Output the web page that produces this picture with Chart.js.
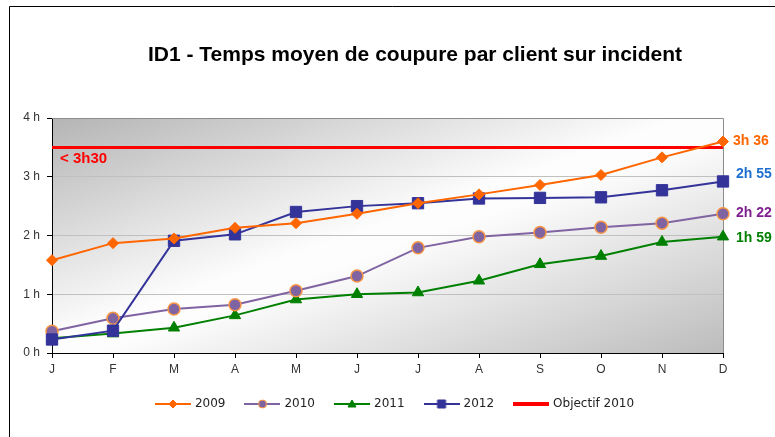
<!DOCTYPE html>
<html>
<head>
<meta charset="utf-8">
<script src="https://cdn.jsdelivr.net/npm/chart.js@4"></script>
<style>
  html, body { margin: 0; padding: 0; background: #fff; }
  canvas { display: block; }
</style>
</head>
<body>
<canvas id="graphe" width="775" height="437"></canvas>
<script>
// ===== DONNEES =====
const mois = ['J', 'F', 'M', 'A', 'M', 'J', 'J', 'A', 'S', 'O', 'N', 'D'];
const serie2009 = [1.58, 1.87, 1.95, 2.13, 2.21, 2.37, 2.55, 2.70, 2.86, 3.03, 3.33, 3.60];
const serie2010 = [0.37, 0.59, 0.75, 0.82, 1.06, 1.31, 1.79, 1.98, 2.05, 2.14, 2.21, 2.37];
const serie2011 = [0.25, 0.33, 0.43, 0.64, 0.91, 1.00, 1.03, 1.23, 1.51, 1.65, 1.89, 1.98];
const serie2012 = [0.23, 0.38, 1.91, 2.02, 2.40, 2.50, 2.55, 2.63, 2.64, 2.65, 2.77, 2.92];
const objectif2010 = mois.map(() => 3.5);
const etiquettesFin = ['3h 36', '2h 22', '1h 59', '2h 55']; // 2009, 2010, 2011, 2012
const titre = 'ID1 - Temps moyen de coupure par client sur incident';
const texteObjectif = '< 3h30';

// icones de légende : trait + marqueur
function icone(couleur, forme, fond, bord, epaisseur) {
  const c = document.createElement('canvas');
  c.width = 36; c.height = 12;
  const g = c.getContext('2d');
  g.strokeStyle = couleur;
  g.lineWidth = epaisseur;
  g.beginPath(); g.moveTo(0, 6); g.lineTo(36, 6); g.stroke();
  g.fillStyle = fond;
  g.strokeStyle = bord;
  g.lineWidth = 1;
  g.beginPath();
  if (forme === 'losange') { g.moveTo(18, 2); g.lineTo(22, 6); g.lineTo(18, 10); g.lineTo(14, 6); g.closePath(); }
  if (forme === 'rond') { g.arc(18, 6, 4, 0, Math.PI * 2); }
  if (forme === 'triangle') { g.moveTo(18, 2); g.lineTo(22, 9); g.lineTo(14, 9); g.closePath(); }
  if (forme === 'carre') { g.rect(14, 2, 8, 8); }
  if (forme) { g.fill(); g.stroke(); }
  return c;
}
const icones = [
  icone('#FF6600', 'losange', '#FF6600', '#FF6600', 2),
  icone('#8064A2', 'rond', '#8064A2', '#F79646', 2),
  icone('#008000', 'triangle', '#008000', '#008000', 2),
  icone('#333399', 'carre', '#333399', '#333399', 2),
  icone('#FF0000', null, null, null, 4)
];

// ===== DECOR (fond, titre, cadre, étiquettes) =====
const decor = {
  id: 'decor',
  afterLayout(chart) {
    // légende centrée sur toute la largeur, pas seulement sur la zone utile
    chart.legend.left += 34;
    chart.legend.right += 34;
  },
  beforeDraw(chart) {
    const { ctx, chartArea: a } = chart;
    ctx.save();
    ctx.fillStyle = '#fff';
    ctx.fillRect(0, 0, chart.width, chart.height);
    ctx.translate(a.left, a.top);
    ctx.scale(a.right - a.left, a.bottom - a.top);
    const grad = ctx.createLinearGradient(0, 0, 1, 1);
    grad.addColorStop(0, '#b4b4b4');
    grad.addColorStop(0.47, '#fdfdfd');
    grad.addColorStop(0.53, '#fdfdfd');
    grad.addColorStop(1, '#bcbcbc');
    ctx.fillStyle = grad;
    ctx.fillRect(0, 0, 1, 1);
    ctx.restore();
  },
  beforeDatasetsDraw(chart) {
    const { ctx, chartArea: a } = chart;
    ctx.save();
    ctx.strokeStyle = '#8c8c8c';
    ctx.lineWidth = 1;
    ctx.beginPath();
    ctx.moveTo(a.left, a.top + 0.5);
    ctx.lineTo(a.right + 0.5, a.top + 0.5);
    ctx.lineTo(a.right + 0.5, a.bottom);
    ctx.stroke();
    ctx.restore();
  },
  afterDatasetsDraw(chart) {
    const { ctx, chartArea: a } = chart;
    ctx.save();
    ctx.font = 'bold 14px Arial, "Liberation Sans", sans-serif';
    ctx.textBaseline = 'middle';
    ctx.textAlign = 'left';
    chart.data.datasets.forEach((ds, i) => {
      if (!ds.fin) return;
      const pts = chart.getDatasetMeta(i).data;
      const p = pts[pts.length - 1];
      ctx.fillStyle = ds.fin.couleur;
      ctx.fillText(ds.fin.texte, a.right + ds.fin.dx, p.y + ds.fin.dy);
    });
    // objectif
    const yObj = chart.scales.y.getPixelForValue(objectif2010[0]);
    ctx.font = 'bold 15px Arial, "Liberation Sans", sans-serif';
    ctx.fillStyle = '#FF0000';
    ctx.fillText(texteObjectif, a.left + 8, yObj + 11);
    ctx.restore();
  },
  afterDraw(chart) {
    const { ctx } = chart;
    ctx.save();
    ctx.font = 'bold 21px Arial, "Liberation Sans", sans-serif';
    ctx.fillStyle = '#000';
    ctx.textAlign = 'center';
    ctx.textBaseline = 'middle';
    ctx.fillText(titre, 415, 55);
    ctx.strokeStyle = '#000';
    ctx.lineWidth = 1;
    ctx.beginPath();
    ctx.moveTo(chart.width, 6.5);
    ctx.lineTo(9.5, 6.5);
    ctx.lineTo(9.5, chart.height);
    ctx.stroke();
    ctx.restore();
  }
};

// ===== GRAPHIQUE =====
const police = { family: 'Arial, "Liberation Sans", sans-serif', size: 12 };
const policeLegende = { family: '"DejaVu Sans", Arial, sans-serif', size: 12 };

new Chart(document.getElementById('graphe'), {
  type: 'line',
  data: {
    labels: mois,
    datasets: [
      {
        label: '2009', data: serie2009, order: 0,
        borderColor: '#FF6600', backgroundColor: '#FF6600', borderWidth: 2,
        pointStyle: 'rectRot', pointRadius: 5.5, pointBorderWidth: 1,
        fin: { texte: etiquettesFin[0], couleur: '#FF6600', dx: 10, dy: 0 }
      },
      {
        label: '2010', data: serie2010, order: 2,
        borderColor: '#8064A2', backgroundColor: '#8064A2', borderWidth: 2,
        pointStyle: 'circle', pointRadius: 6, pointBorderColor: '#F79646', pointBorderWidth: 1.5,
        fin: { texte: etiquettesFin[1], couleur: '#7F1F8F', dx: 13, dy: -1 }
      },
      {
        label: '2011', data: serie2011, order: 3,
        borderColor: '#008000', backgroundColor: '#008000', borderWidth: 2,
        pointStyle: 'triangle', pointRadius: 6.5, pointBorderWidth: 1,
        fin: { texte: etiquettesFin[2], couleur: '#008000', dx: 13, dy: 1 }
      },
      {
        label: '2012', data: serie2012, order: 1,
        borderColor: '#333399', backgroundColor: '#333399', borderWidth: 2,
        pointStyle: 'rect', pointRadius: 8, pointBorderWidth: 1,
        fin: { texte: etiquettesFin[3], couleur: '#1F6FCF', dx: 13, dy: -7 }
      },
      {
        label: 'Objectif 2010', data: objectif2010, order: 4,
        borderColor: '#FF0000', backgroundColor: '#FF0000', borderWidth: 3,
        pointRadius: 0
      }
    ]
  },
  options: {
    responsive: false,
    animation: false,
    devicePixelRatio: 1,
    layout: { padding: { top: 118, right: 52, bottom: 17, left: 0 } },
    plugins: {
      title: { display: false },
      tooltip: { enabled: false },
      legend: {
        position: 'bottom',
        labels: {
          usePointStyle: true,
          pointStyleWidth: 32,
          padding: 21,
          color: '#222',
          font: policeLegende,
          sort: (a, b) => a.datasetIndex - b.datasetIndex,
          generateLabels(chart) {
            const items = Chart.defaults.plugins.legend.labels.generateLabels(chart);
            items.forEach(it => { it.pointStyle = icones[it.datasetIndex]; });
            return items;
          }
        }
      }
    },
    scales: {
      x: {
        offset: false,
        afterFit(s) { s.height = 24; },
        grid: { drawOnChartArea: false, tickColor: '#000', tickLength: 5 },
        border: { color: '#000', width: 1 },
        ticks: { color: '#333', font: police, padding: 4, maxRotation: 0, autoSkip: false }
      },
      y: {
        min: 0, max: 4,
        afterFit(s) { s.width = 52; },
        grid: { color: '#c0c0c0', tickColor: '#000', tickLength: 5 },
        border: { color: '#000', width: 1 },
        ticks: { stepSize: 1, color: '#333', font: police, padding: 7, callback: v => v + ' h' }
      }
    }
  },
  plugins: [decor]
});
</script>
</body>
</html>
